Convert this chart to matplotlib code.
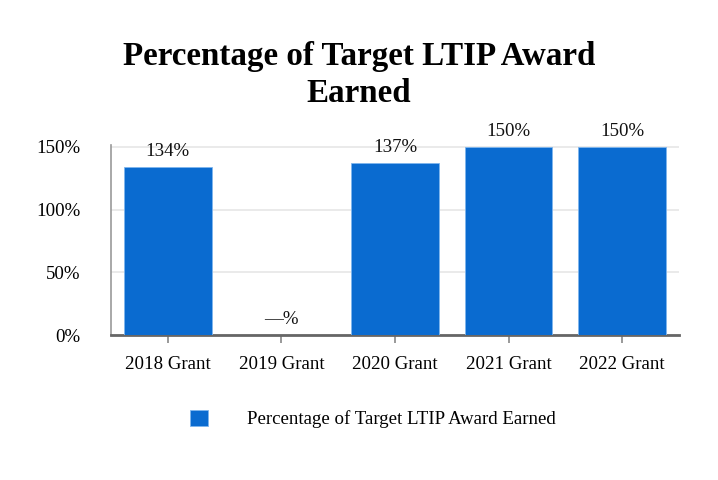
import matplotlib.pyplot as plt

categories = ["2018 Grant", "2019 Grant", "2020 Grant", "2021 Grant", "2022 Grant"]
values = [134, 0, 137, 150, 150]
labels = ["134%", "—%", "137%", "150%", "150%"]
yticks = [0, 50, 100, 150]
ytick_labels = ["0%", "50%", "100%", "150%"]
series_name = "Percentage of Target LTIP Award Earned"

plt.rcParams["font.family"] = ["Liberation Serif", "DejaVu Serif"]
fs = 13.6

fig = plt.figure(figsize=(7.18, 4.8), dpi=100)
ax = fig.add_axes([111 / 718, 1 - 335 / 480, 568 / 718, 190 / 480])

x = range(len(categories))
bars = ax.bar(x, values, width=0.77, color="#0a6bd0", edgecolor="#7fb6ee",
              linewidth=0.6, label=series_name, zorder=3)

for xi, v, lab in zip(x, values, labels):
    ax.annotate(lab, (xi, v), xytext=(0, 5), textcoords="offset points",
                ha="center", va="bottom", fontsize=fs, color="#111111")

ax.set_xlim(-0.5, len(categories) - 0.5)
ax.set_ylim(0, 151.5)
ax.set_yticks(yticks)
ax.set_yticklabels(ytick_labels, fontsize=fs)
ax.set_xticks(list(x))
ax.set_xticklabels(categories, fontsize=fs)
ax.yaxis.grid(True, color="#e6e6e6", linewidth=1.2, zorder=0)
ax.tick_params(axis="y", length=0, pad=22)
ax.tick_params(axis="x", length=6, color="#888888", width=1.2, pad=9)

for s in ["top", "right"]:
    ax.spines[s].set_visible(False)
ax.spines["left"].set_color("#999999")
ax.spines["left"].set_linewidth(1.2)
ax.spines["bottom"].set_color("#666666")
ax.spines["bottom"].set_linewidth(2)

fig.text(0.5, 1 - 75 / 480, "Percentage of Target LTIP Award\nEarned",
         ha="center", va="center", fontsize=23.8, fontweight="bold",
         linespacing=1.25)

fig.legend(handles=[bars], labels=[series_name], loc="center",
           bbox_to_anchor=(373 / 718, 1 - 419 / 480), frameon=False,
           fontsize=fs, handlelength=0.95, handleheight=0.95, handletextpad=2.05)

fig.savefig("out.png", dpi=100)
